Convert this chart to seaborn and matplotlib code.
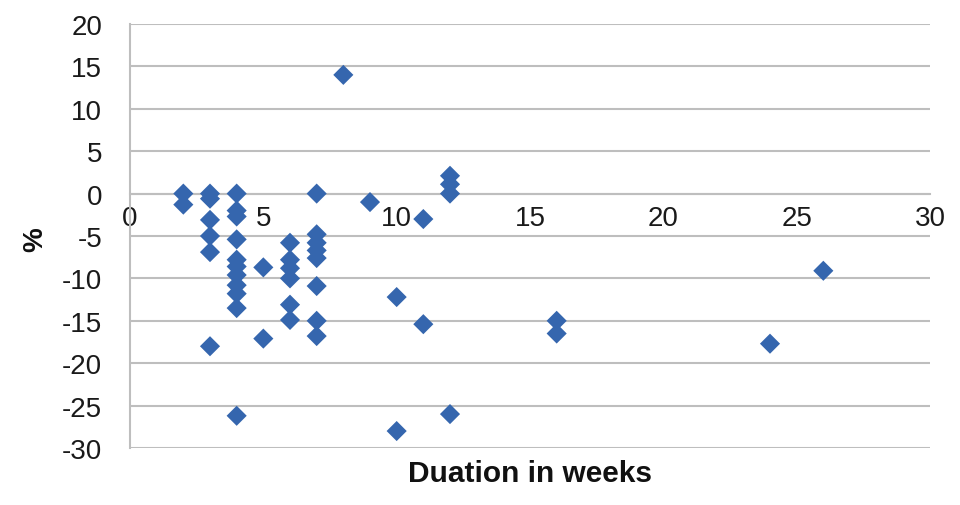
import pandas as pd
import seaborn as sns
import matplotlib.pyplot as plt

# durations (weeks) and change (%)
weeks = [2, 2,
         3, 3, 3, 3, 3, 3,
         4, 4, 4, 4, 4, 4, 4, 4, 4, 4, 4,
         5, 5,
         6, 6, 6, 6, 6, 6,
         7, 7, 7, 7, 7, 7, 7, 7,
         8, 9,
         10, 10,
         11, 11,
         12, 12, 12, 12,
         16, 16, 24, 26]
change = [0, -1.3,
          0, -0.6, -3.1, -5.0, -6.9, -18.0,
          0, -2.0, -2.7, -5.4, -7.8, -8.6, -9.6, -10.8, -11.8, -13.5, -26.2,
          -8.7, -17.1,
          -5.8, -7.8, -8.8, -10.0, -13.1, -14.9,
          0, -4.8, -5.8, -6.7, -7.6, -10.9, -15.0, -16.8,
          14.0, -1.0,
          -12.2, -28.0,
          -3.0, -15.4,
          2.1, 1.1, 0, -26.0,
          -15.0, -16.5, -17.7, -9.1]

df = pd.DataFrame({'weeks': weeks, 'change': change})

sns.set_style('white')
plt.rcParams['font.family'] = ['Liberation Sans', 'DejaVu Sans']
plt.rcParams['axes.unicode_minus'] = False

fig = plt.figure(figsize=(9.6, 5.06), dpi=100)
ax = fig.add_axes([130 / 960, 57 / 506, 800 / 960, 424 / 506])

sns.scatterplot(data=df, x='weeks', y='change', marker='D', s=105,
                color='#3566AE', edgecolor='none', ax=ax, zorder=3)

ax.set_xlim(0, 30)
ax.set_ylim(-30, 20)
ax.set_xticks(range(0, 31, 5))
ax.set_yticks(range(-30, 21, 5))

grid = '#BEBEBE'
ax.yaxis.grid(True, color=grid, linewidth=1.5)
ax.xaxis.grid(False)
for side in ['top', 'right']:
    ax.spines[side].set_visible(False)
ax.spines['left'].set_color(grid)
ax.spines['left'].set_linewidth(1.5)
ax.spines['bottom'].set_position(('data', 0))
ax.spines['bottom'].set_color(grid)
ax.spines['bottom'].set_linewidth(1.5)

ax.tick_params(axis='x', length=0, pad=8, labelsize=20, colors='#1a1a1a')
ax.tick_params(axis='y', length=0, pad=20, labelsize=20, colors='#1a1a1a')

ax.set_xlabel('Duation in weeks', fontsize=21.5, fontweight='bold', color='#111111')
ax.xaxis.set_label_coords(0.5, -0.059)
ax.xaxis.label.set_va('center')
ax.set_ylabel('%', fontsize=20, fontweight='bold', color='#111111')
ax.yaxis.set_label_coords(-0.119, 0.493)
ax.yaxis.label.set_va('center')

plt.savefig('out.png', dpi=100)
